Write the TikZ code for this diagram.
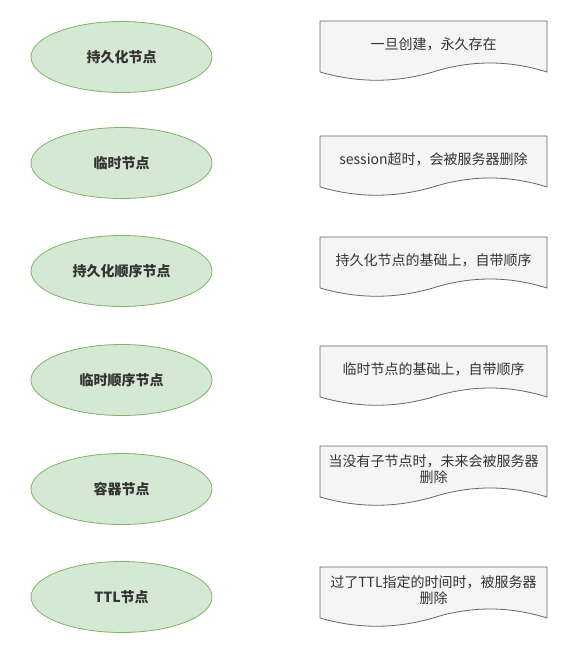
\documentclass[tikz,border=0pt]{standalone}
\usepackage{fontspec}
\setmainfont{Noto Sans CJK SC}
\usetikzlibrary{shapes.geometric}

\definecolor{keyfill}{HTML}{D5E8D4}
\definecolor{keyline}{HTML}{82B366}
\definecolor{notefill}{HTML}{F5F5F5}
\definecolor{noteline}{HTML}{666666}
\definecolor{inktext}{HTML}{333333}

% note sheet with a wavy lower edge: #1 name, #2 top, #3 text
\newcommand{\notesheet}[3]{%
    \filldraw[notebox] (320,#2) -- (547,#2) -- (547,#2+51)
        .. controls (509,#2+39) and (471,#2+39) .. (433,#2+51)
        .. controls (395,#2+62) and (358,#2+62) .. (320,#2+51) -- cycle;
    \node[notetext] (#1) at (433.5,#2+23.5) {#3};
}

\begin{document}
\begin{tikzpicture}[x=1pt,y=-1pt,
        keynode/.style = {ellipse,draw=keyline,fill=keyfill,line width=0.8pt,
            minimum width=181pt,minimum height=71pt,inner sep=0pt,
            text=inktext,font=\fontsize{14}{16}\selectfont\bfseries},
        notebox/.style = {draw=noteline,fill=notefill,line width=0.8pt},
        notetext/.style = {align=center,inner sep=0pt,text=inktext,
            font=\fontsize{14}{16}\selectfont}]
    \useasboundingbox[fill=white] (0,0) rectangle (582,647);

    % node kinds
    \node[keynode] (persistent)   at (121.5,57)  {持久化节点};
    \node[keynode] (ephemeral)    at (121.5,163) {临时节点};
    \node[keynode] (persistseq)   at (121.5,271) {持久化顺序节点};
    \node[keynode] (ephemeralseq) at (121.5,380) {临时顺序节点};
    \node[keynode] (container)    at (121.5,489) {容器节点};
    \node[keynode] (ttl)          at (121.5,597) {TTL节点};

    % notes
    \notesheet{persistentnote}{21}{一旦创建，永久存在}
    \notesheet{ephemeralnote}{136}{session超时，会被服务器删除}
    \notesheet{persistseqnote}{237}{持久化节点的基础上，自带顺序}
    \notesheet{ephemeralseqnote}{346}{临时节点的基础上，自带顺序}
    \notesheet{containernote}{446}{当没有子节点时，未来会被服务器\\删除}
    \notesheet{ttlnote}{567}{过了TTL指定的时间时，被服务器\\删除}
\end{tikzpicture}
\end{document}
